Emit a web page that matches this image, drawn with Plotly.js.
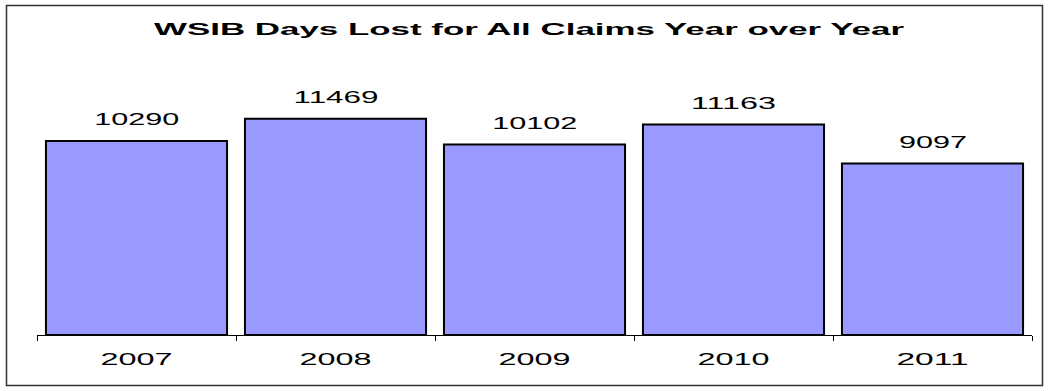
<!DOCTYPE html>
<html>
<head>
<meta charset="utf-8">
<script src="https://cdn.plot.ly/plotly-3.0.1.min.js"></script>
<style>
html,body{margin:0;padding:0;background:#fff;}
#chart{width:1049px;height:391px;}
</style>
</head>
<body>
<div id="chart"></div>
<script>
const years = ['2007', '2008', '2009', '2010', '2011'];
const daysLost = [10290, 11469, 10102, 11163, 9097];
const chartTitle = 'WSIB Days Lost for All Claims Year over Year';

const FONT = 'Arial, "Liberation Sans", sans-serif';
const W = 1049, H = 391;
const M = {l: 37, r: 17, t: 71, b: 56};
const pw = W - M.l - M.r, ph = H - M.t - M.b;

const trace = {
  type: 'bar',
  x: years,
  y: daysLost,
  marker: {color: '#9999FF', line: {color: '#000000', width: 2}},
  hoverinfo: 'none'
};

// category index positions so numeric-looking year names are not read as indices
const annotations = years.map((yr, i) => ({
  x: i, y: daysLost[i], xref: 'x', yref: 'y',
  text: String(daysLost[i]), showarrow: false,
  yanchor: 'middle', yshift: 21,
  font: {family: FONT, size: 17, color: '#000'}
}));

// figure frame
const px2x = p => (p - M.l) / pw;
const px2y = p => 1 - (p - M.t) / ph;
const shapes = [{
  type: 'rect', xref: 'paper', yref: 'paper',
  x0: px2x(6.5), x1: px2x(1042.5), y0: px2y(385.5), y1: px2y(5.5),
  line: {color: '#333', width: 1.5}, fillcolor: 'rgba(0,0,0,0)', layer: 'below'
}];

const layout = {
  width: W, height: H,
  margin: M,
  paper_bgcolor: '#fff', plot_bgcolor: '#fff',
  showlegend: false,
  bargap: 0.09,
  title: {
    text: '<b>' + chartTitle + '</b>',
    font: {family: FONT, size: 17, color: '#000'},
    x: 529 / W, xref: 'container', xanchor: 'center',
    y: 1 - 29 / H, yref: 'container', yanchor: 'middle'
  },
  xaxis: {
    type: 'category',
    range: [-0.5, years.length - 0.5],
    showline: true, linecolor: '#000', linewidth: 1,
    ticks: 'outside', tickson: 'boundaries', ticklen: 5, tickcolor: '#000', tickwidth: 1,
    tickangle: 0, ticklabelstandoff: 10,
    tickfont: {family: FONT, size: 16, color: '#000'},
    showgrid: false, zeroline: false,
    fixedrange: true
  },
  yaxis: {
    range: [0, 14000],
    visible: false, showgrid: false, zeroline: false,
    fixedrange: true
  },
  annotations: annotations,
  shapes: shapes
};

function stretch(el, target) {
  if (!el) return;
  el.setAttribute('textLength', target);
  el.setAttribute('lengthAdjust', 'spacingAndGlyphs');
}

Plotly.newPlot('chart', [trace], layout, {staticPlot: true, displayModeBar: false}).then(gd => {
  const t = gd.querySelector('.gtitle');
  stretch(t, 750);
  gd.querySelectorAll('.xtick text').forEach(el => stretch(el, el.textContent.length * 18));
  gd.querySelectorAll('.annotation-text').forEach(el => stretch(el, el.textContent.length * 17));
});
</script>
</body>
</html>
